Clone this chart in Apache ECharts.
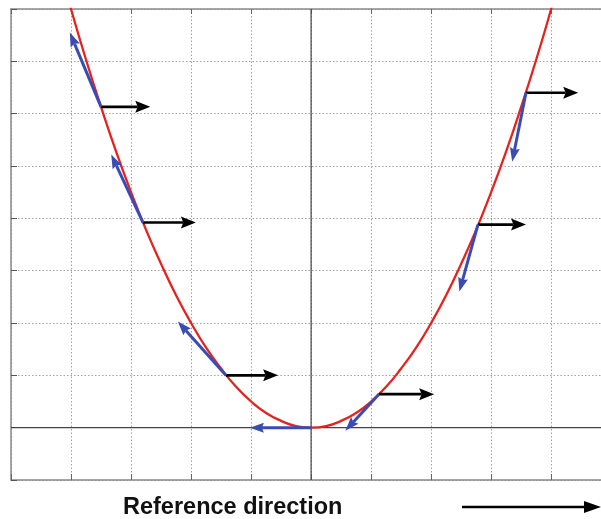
<!DOCTYPE html>
<html>
<head>
<meta charset="utf-8">
<script src="https://cdn.jsdelivr.net/npm/echarts@6/dist/echarts.min.js"></script>
<style>
html,body{margin:0;padding:0;background:#fff;}
#chart{width:601px;height:519px;}
</style>
</head>
<body>
<div id="chart"></div>
<script>
// Parabola points
const curveX = [-4.2, -4.0, -3.75, -3.5, -3.25, -3.0, -2.75, -2.5, -2.25, -2.0, -1.75, -1.5, -1.25, -1.0, -0.75, -0.5, -0.25, 0, 0.25, 0.5, 0.75, 1.0, 1.25, 1.5, 1.75, 2.0, 2.25, 2.5, 2.75, 3.0, 3.25, 3.5, 3.75, 4.0, 4.2];
const curveY = [8.82, 8.0, 7.03, 6.13, 5.28, 4.5, 3.78, 3.13, 2.53, 2.0, 1.53, 1.13, 0.78, 0.5, 0.28, 0.13, 0.03, 0, 0.03, 0.13, 0.28, 0.5, 0.78, 1.13, 1.53, 2.0, 2.53, 3.13, 3.78, 4.5, 5.28, 6.13, 7.03, 8.0, 8.82];

// Points on the curve where arrows start
const pointX = [-3.5, -2.8, -1.42, 0, 1.13, 2.78, 3.58];
const pointY = [6.13, 3.92, 1.0, 0, 0.64, 3.88, 6.4];
// Reference-direction (black) arrow tip x (null = no arrow)
const refEndX = [-2.68, -1.92, -0.55, null, 2.05, 3.58, 4.45];
// Blue arrow tips
const tanEndX = [-4.02, -3.33, -2.22, -1.02, 0.57, 2.47, 3.35];
const tanEndY = [7.55, 5.22, 2.03, 0, -0.06, 2.6, 5.08];

// Axis range (the right part of the frame is cut off by the picture edge)
const xRange = [-5, 4.83, 1];
const yRange = [-1, 8, 1];
const caption = 'Reference direction';

const curveData = curveX.map((x, i) => [x, curveY[i]]);
const refData = [];
const tanData = [];
pointX.forEach((x, i) => {
  if (refEndX[i] !== null) refData.push([x, pointY[i], refEndX[i], pointY[i]]);
  tanData.push([x, pointY[i], tanEndX[i], tanEndY[i]]);
});

function arrowRenderer(color, lineWidth, headLen, headHalf, notch) {
  return function (params, api) {
    const p0 = api.coord([api.value(0), api.value(1)]);
    const p1 = api.coord([api.value(2), api.value(3)]);
    const dx = p1[0] - p0[0], dy = p1[1] - p0[1];
    const L = Math.sqrt(dx * dx + dy * dy) || 1;
    const ux = dx / L, uy = dy / L;
    const nx = -uy, ny = ux;
    const bx = p1[0] - ux * headLen, by = p1[1] - uy * headLen;
    const mx = p1[0] - ux * (headLen - notch), my = p1[1] - uy * (headLen - notch);
    return {
      type: 'group',
      children: [
        {type: 'line', shape: {x1: p0[0], y1: p0[1], x2: mx, y2: my},
         style: {stroke: color, lineWidth: lineWidth, lineCap: 'butt'}},
        {type: 'polygon', shape: {points: [
          [p1[0], p1[1]],
          [bx + nx * headHalf, by + ny * headHalf],
          [mx, my],
          [bx - nx * headHalf, by - ny * headHalf]
        ]}, style: {fill: color}}
      ]
    };
  };
}

const chart = echarts.init(document.getElementById('chart'));
const gridColor = '#a0a0a0';
const borderColor = '#8a8a8a';
chart.setOption({
  animation: false,
  backgroundColor: '#fff',
  grid: {left: 11, top: 9, right: 0, height: 471, containLabel: false},
  xAxis: [{
    type: 'value', min: xRange[0], max: xRange[1], interval: xRange[2], position: 'bottom',
    axisLine: {show: true, onZero: false, lineStyle: {color: borderColor, width: 1.5}},
    axisTick: {show: true, inside: true, length: 6, lineStyle: {color: '#666'}},
    axisLabel: {show: false},
    splitLine: {show: true, lineStyle: {color: gridColor, type: [1.5, 2], width: 1}}
  }, {
    type: 'value', min: xRange[0], max: xRange[1], interval: xRange[2], position: 'top',
    axisLine: {show: true, onZero: false, lineStyle: {color: borderColor, width: 1.5}},
    axisTick: {show: true, inside: true, length: 5, lineStyle: {color: '#666'}},
    axisLabel: {show: false},
    splitLine: {show: false}
  }],
  yAxis: {
    type: 'value', min: yRange[0], max: yRange[1], interval: yRange[2],
    axisLine: {show: true, onZero: false, lineStyle: {color: borderColor, width: 1.5}},
    axisTick: {show: true, inside: true, length: 6, lineStyle: {color: '#555'}},
    axisLabel: {show: false},
    splitLine: {show: true, lineStyle: {color: gridColor, type: [1.5, 2], width: 1}}
  },
  series: [
    {
      type: 'line', data: [[0, yRange[0]], [0, yRange[1]]], showSymbol: false, silent: true,
      lineStyle: {color: '#444', width: 1.2}, z: 1
    },
    {
      type: 'line', data: [[xRange[0], 0], [xRange[1], 0]], showSymbol: false, silent: true,
      lineStyle: {color: '#444', width: 1.2}, z: 1
    },
    {
      type: 'line', data: curveData, smooth: true, showSymbol: false, clip: true,
      lineStyle: {color: '#e5231e', width: 2.3}, z: 3
    },
    {
      type: 'custom', data: refData, silent: true, z: 4,
      renderItem: arrowRenderer('#000', 2.6, 15, 6, 2.5)
    },
    {
      type: 'custom', data: tanData, silent: true, z: 5,
      renderItem: arrowRenderer('#3a4cb3', 3, 14, 5, 2)
    }
  ],
  graphic: [
    {type: 'text', x: 123, y: 508, style: {text: caption, fill: '#111', verticalAlign: 'middle', font: 'bold 23.5px "Liberation Sans", Arial, sans-serif'}},
    {type: 'line', shape: {x1: 462, y1: 507, x2: 590, y2: 507}, style: {stroke: '#000', lineWidth: 2.5}},
    {type: 'polygon', shape: {points: [[584, 501], [601, 507], [584, 513]]}, style: {fill: '#000'}}
  ]
});
</script>
</body>
</html>
